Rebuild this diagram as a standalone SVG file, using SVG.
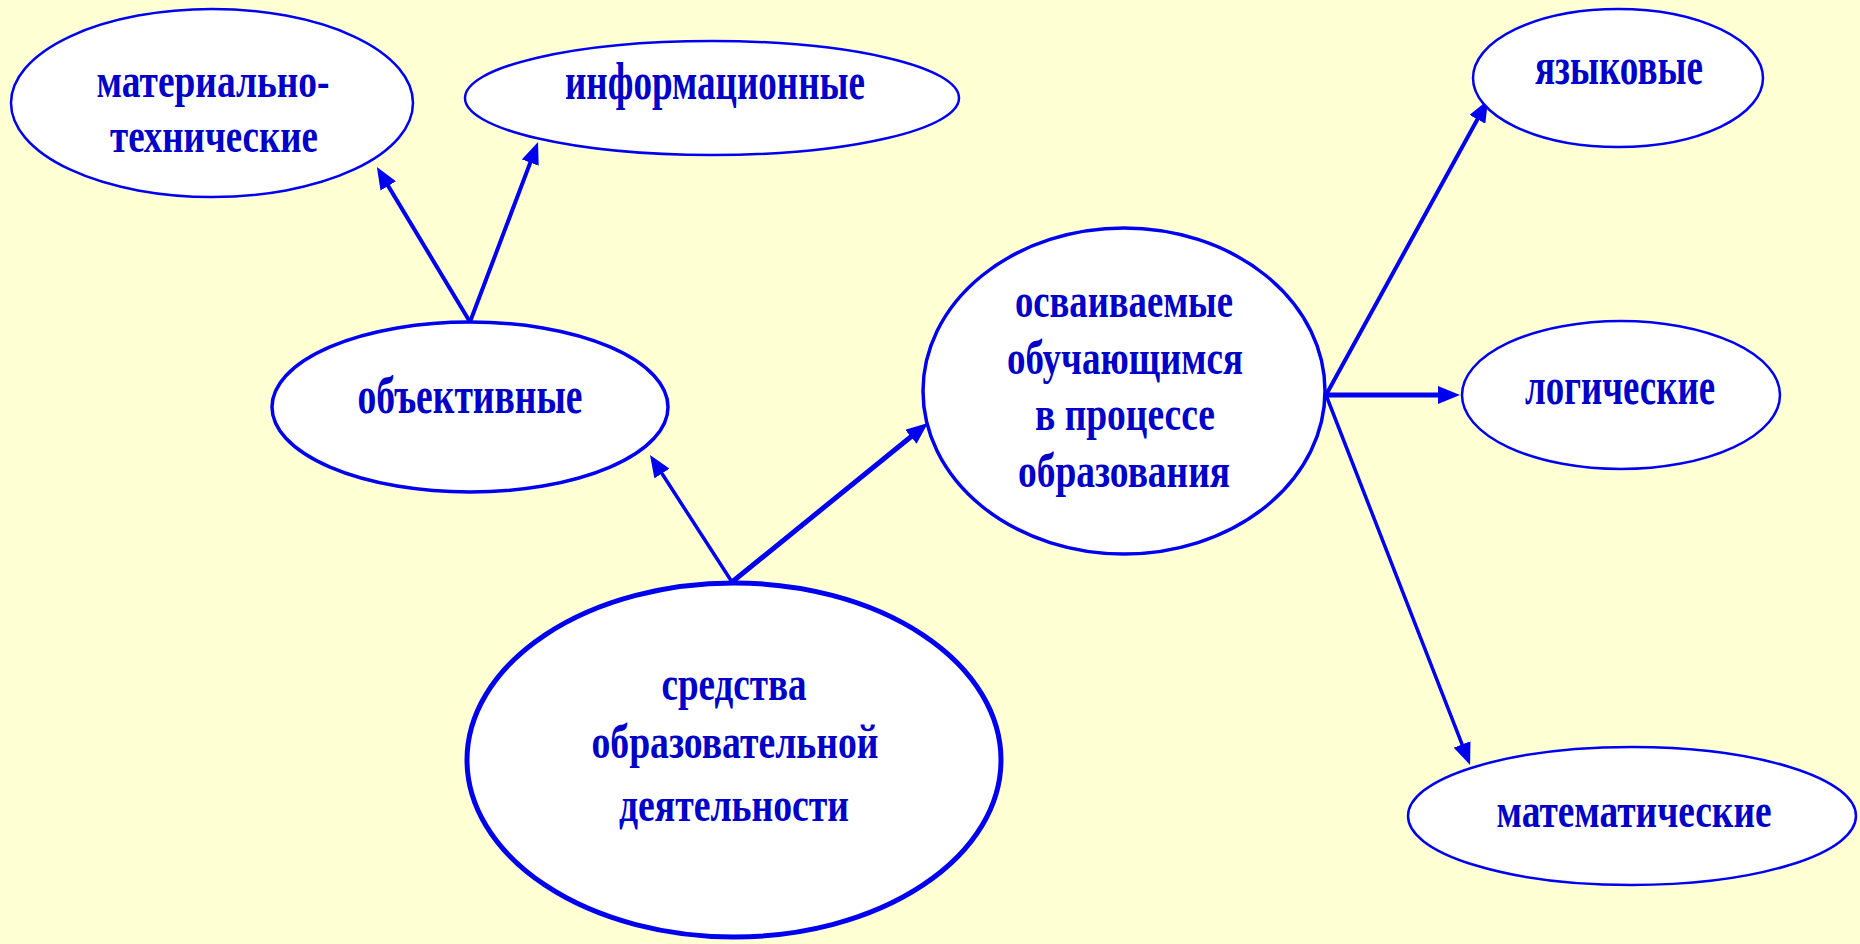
<svg xmlns="http://www.w3.org/2000/svg" width="1860" height="944" viewBox="0 0 1860 944">
<defs>
<style>
.bg{fill:#FFFFD4}
.node ellipse{fill:#FFFFFF;stroke:#0000F0}
.t{font-family:"Liberation Serif","Times New Roman",serif;font-weight:bold;font-size:52px;fill:#0000C8;text-anchor:middle}
.m{font-size:49px}
.c line{stroke:#0000F0;stroke-linecap:round}
.ah{fill:#0000F0}
</style>
<marker id="arr" viewBox="0 0 22 18" markerWidth="22" markerHeight="18" refX="8" refY="9" orient="auto" markerUnits="userSpaceOnUse">
<path class="ah" d="M0,0 L22,9 L0,18 Z"/>
</marker>
</defs>
<rect class="bg" x="0" y="0" width="1860" height="944"/>

<g id="connectors" class="c">
<line x1="470" y1="322" x2="384.1" y2="179.1" stroke-width="4" marker-end="url(#arr)"/>
<line x1="470" y1="322" x2="533.1" y2="155.1" stroke-width="4" marker-end="url(#arr)"/>
<line x1="732" y1="582" x2="657.6" y2="466.8" stroke-width="3.5" marker-end="url(#arr)"/>
<line x1="732" y1="582" x2="917.1" y2="431.8" stroke-width="5" marker-end="url(#arr)"/>
<line x1="1326" y1="395" x2="1481.3" y2="112.3" stroke-width="4" marker-end="url(#arr)"/>
<line x1="1326" y1="395" x2="1446" y2="395" stroke-width="5" marker-end="url(#arr)"/>
<line x1="1326" y1="395" x2="1465" y2="751.9" stroke-width="3.5" marker-end="url(#arr)"/>
</g>

<g id="n-materialno" class="node">
<ellipse cx="212" cy="103" rx="201" ry="94" stroke-width="2.5"/>
<text class="t m" x="213" y="97" textLength="233" lengthAdjust="spacingAndGlyphs">материально-</text>
<text class="t m" x="214" y="152" textLength="208" lengthAdjust="spacingAndGlyphs">технические</text>
</g>

<g id="n-informacionnye" class="node">
<ellipse cx="712" cy="98" rx="247" ry="57" stroke-width="2.5"/>
<text class="t" x="715" y="99" textLength="300" lengthAdjust="spacingAndGlyphs">информационные</text>
</g>

<g id="n-obektivnye" class="node">
<ellipse cx="470" cy="407" rx="198" ry="85" stroke-width="3.5"/>
<text class="t" x="470" y="413" textLength="225" lengthAdjust="spacingAndGlyphs">объективные</text>
</g>

<g id="n-sredstva" class="node">
<ellipse cx="734" cy="760" rx="267" ry="177" stroke-width="5"/>
<text class="t m" x="734" y="700" textLength="145" lengthAdjust="spacingAndGlyphs">средства</text>
<text class="t m" x="735" y="758" textLength="287" lengthAdjust="spacingAndGlyphs">образовательной</text>
<text class="t m" x="734" y="821" textLength="230" lengthAdjust="spacingAndGlyphs">деятельности</text>
</g>

<g id="n-osvaivaemye" class="node">
<ellipse cx="1124" cy="391" rx="201" ry="163" stroke-width="3.5"/>
<text class="t m" x="1124" y="317" textLength="218" lengthAdjust="spacingAndGlyphs">осваиваемые</text>
<text class="t m" x="1125" y="374" textLength="236" lengthAdjust="spacingAndGlyphs">обучающимся</text>
<text class="t m" x="1125" y="430" textLength="180" lengthAdjust="spacingAndGlyphs">в процессе</text>
<text class="t m" x="1124" y="487" textLength="212" lengthAdjust="spacingAndGlyphs">образования</text>
</g>

<g id="n-yazykovye" class="node">
<ellipse cx="1618" cy="78" rx="145" ry="69" stroke-width="2.5"/>
<text class="t" x="1619" y="84" textLength="168" lengthAdjust="spacingAndGlyphs">языковые</text>
</g>

<g id="n-logicheskie" class="node">
<ellipse cx="1621" cy="395" rx="159" ry="74" stroke-width="2.5"/>
<text class="t" x="1620" y="404" textLength="190" lengthAdjust="spacingAndGlyphs">логические</text>
</g>

<g id="n-matematicheskie" class="node">
<ellipse cx="1632" cy="816" rx="224" ry="69" stroke-width="2.5"/>
<text class="t m" x="1634" y="827" textLength="275" lengthAdjust="spacingAndGlyphs">математические</text>
</g>
</svg>
